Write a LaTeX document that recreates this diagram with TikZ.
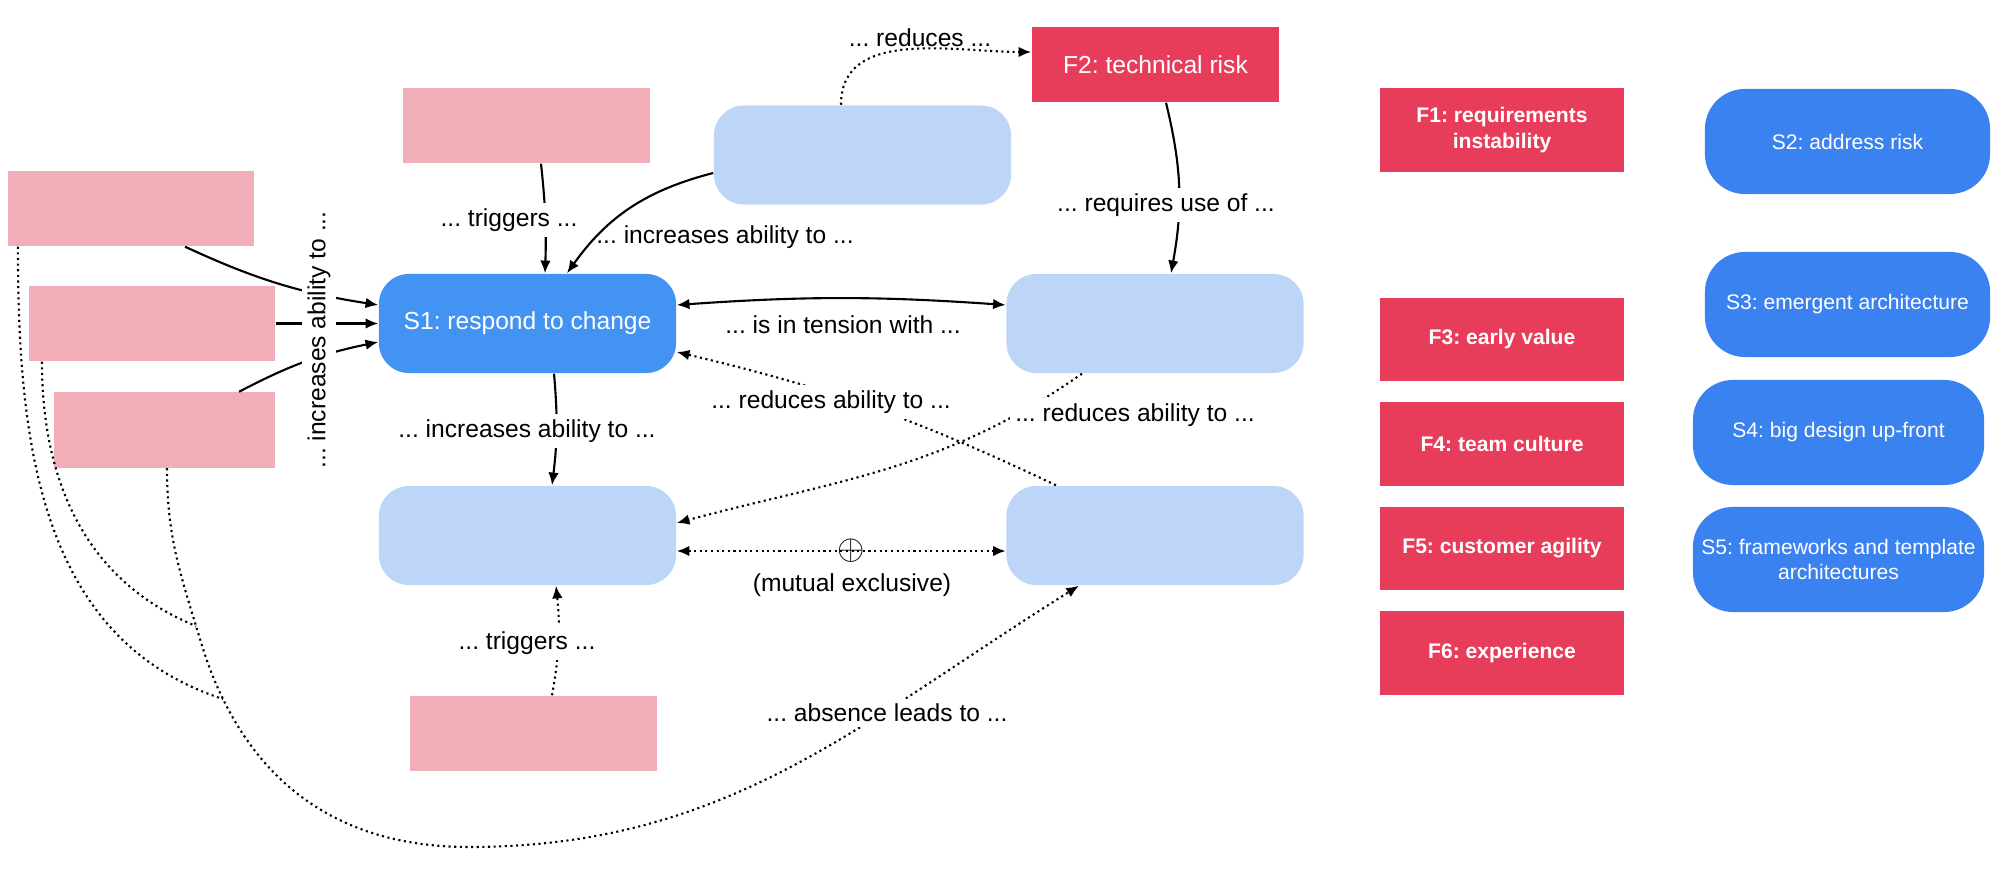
\documentclass[tikz,border=0pt]{standalone}
\usepackage{fontspec}
\setmainfont{Liberation Sans}
\frenchspacing
\usetikzlibrary{arrows.meta}

\begin{document}
\begin{tikzpicture}[
        x=0.01cm,
        y=-0.01cm,
        font=\fontsize{7}{8.4}\selectfont,
        >={Latex[length=3.6pt,width=3pt]},
        pinkbox/.style={
            rectangle,
            fill=pinkfill,
            minimum width=2.46cm,
            minimum height=0.75cm,
            inner sep=0pt
          },
        lightbox/.style={
            rectangle,
            rounded corners=0.3cm,
            fill=lightfill,
            minimum width=2.97cm,
            minimum height=0.99cm,
            inner sep=0pt
          },
        factorbox/.style={
            rectangle,
            fill=factorfill,
            text=white,
            font=\fontsize{6}{7.2}\selectfont\bfseries,
            align=center,
            minimum width=2.44cm,
            minimum height=0.83cm,
            inner sep=0pt
          },
        stratbox/.style={
            rectangle,
            rounded corners=0.4cm,
            fill=stratfill,
            text=white,
            font=\fontsize{6}{7.2}\selectfont,
            align=center,
            minimum width=2.91cm,
            minimum height=1.05cm,
            inner sep=0pt
          },
        mylabel/.style={
            fill=white,
            inner sep=1.5pt
          },
        dotline/.style={
            line width=0.6pt,
            densely dotted
          },
        solidarrow/.style={
            line width=0.6pt,
            ->
          },
        dotarrow/.style={
            dotline,
            ->
          }]
        % Define colors
        \definecolor{pinkfill}{HTML}{F2AEB8}   % light red
        \definecolor{factorfill}{HTML}{E83D5A} % red
        \definecolor{lightfill}{HTML}{BDD6F8}  % light blue
        \definecolor{s1fill}{HTML}{4393F3}     % blue
        \definecolor{stratfill}{HTML}{3B82F1}  % darker blue

        \useasboundingbox (0,0) rectangle (1994,886);

        % Draw empty factor boxes
        \draw (131,208.5) node[pinkbox] (pinka) {};
        \draw (152,323.5) node[pinkbox] (pinkb) {};
        \draw (164.5,430) node[pinkbox, minimum width=2.21cm] (pinkc) {};
        \draw (526.5,125.5) node[pinkbox] (pinktop) {};
        \draw (533.5,733.5) node[pinkbox] (pinkbot) {};
        \draw (1155.5,64.5) node[pinkbox, minimum width=2.47cm, fill=factorfill, text=white] (f2) {F2: technical risk};

        % Draw strategy boxes
        \draw (527.5,323.5) node[lightbox, fill=s1fill, text=white] (s1) {S1: respond to change};
        \draw (862.5,155) node[lightbox] (btop) {};
        \draw (1155,323.5) node[lightbox] (bright) {};
        \draw (527.5,535.5) node[lightbox] (blow) {};
        \draw (1155,535.5) node[lightbox] (blowright) {};

        % Draw legend
        \draw (1502,130) node[factorbox] (f1) {F1: requirements\\instability};
        \draw (1502,339.5) node[factorbox] (f3) {F3: early value};
        \draw (1502,444) node[factorbox] (f4) {F4: team culture};
        \draw (1502,548.5) node[factorbox] (f5) {F5: customer agility};
        \draw (1502,653) node[factorbox] (f6) {F6: experience};
        \draw (1847.5,141.5) node[stratbox, minimum width=2.85cm] (s2) {S2: address risk};
        \draw (1847.5,304.5) node[stratbox, minimum width=2.85cm] (s3) {S3: emergent architecture};
        \draw (1838.5,432.5) node[stratbox] (s4) {S4: big design up-front};
        \draw (1838.5,559.5) node[stratbox] (s5) {S5: frameworks and template\\architectures};

        % Draw arrows into S1
        \draw[solidarrow] ([xshift=0.54cm]pinka.south) to[bend right=8] ([yshift=0.185cm]s1.west);
        \draw[solidarrow] (pinkb) -- (s1);
        \draw[solidarrow] ([xshift=0.745cm]pinkc.north) to[bend left=8] ([yshift=-0.185cm]s1.west);
        \draw (319,340) node[mylabel, rotate=90] (lblleft) {... increases ability to ...};
        \draw[solidarrow] ([xshift=0.145cm]pinktop.south) to[bend left=4] ([xshift=0.175cm]s1.north);
        \draw (509,220) node[mylabel] (lbltrigtop) {... triggers ...};
        \draw[solidarrow] ([yshift=-0.18cm]btop.west) to[bend right=20] ([xshift=0.395cm]s1.north);
        \draw (725,237) node (lblinctop) {... increases ability to ...};

        % Draw arrows round F2
        \draw[dotarrow] ([xshift=-0.215cm]btop.north) to[out=90,in=180] ([yshift=0.125cm]f2.west);
        \draw (920,38) node (lblreduces) {... reduces ...};
        \draw[solidarrow] ([xshift=0.105cm]f2.south) to[bend left=12] ([xshift=0.16cm]bright.north);
        \draw (1166,205) node[mylabel] (lblrequires) {... requires use of ...};

        % Draw tension and reduce arrows
        \draw[solidarrow, <->] ([yshift=0.185cm]s1.east) to[bend left=4] ([yshift=0.185cm]bright.west);
        \draw (843,325) node (lbltension) {... is in tension with ...};
        \draw[dotarrow] ([xshift=-0.99cm]blowright.north) to[bend right=6] ([yshift=-0.285cm]s1.east);
        \draw (831,402) node[mylabel] (lblredleft) {... reduces ability to ...};
        \draw[dotarrow] ([xshift=-0.73cm]bright.south) to[out=215,in=15] ([yshift=0.125cm]blow.east);
        \draw (1135,415) node[mylabel] (lblredright) {... reduces ability to ...};

        % Draw arrows into the lower box
        \draw[solidarrow] ([xshift=0.265cm]s1.south) to[bend left=6] ([xshift=0.245cm]blow.north);
        \draw (527,431) node[mylabel] (lblincbelow) {... increases ability to ...};
        \draw[dotarrow] ([xshift=0.185cm]pinkbot.north) to[bend right=8] ([xshift=0.285cm]blow.south);
        \draw (527,643) node[mylabel] (lbltrigbot) {... triggers ...};
        \draw[dotarrow, <->] ([yshift=-0.155cm]blow.east) -- node[pos=0.53, inner sep=0pt, font=\fontsize{10}{12}\selectfont] (xor) {$\oplus$} ([yshift=-0.155cm]blowright.west);
        \draw (852,585) node (lblmutual) {(mutual exclusive)};

        % Draw absence curves
        \coordinate (mergeb) at (196,626);
        \coordinate (mergea) at (223,699);
        \coordinate (lowest) at (469,847);
        \draw[dotarrow] ([xshift=0.025cm]pinkc.south) to[out=-90,in=107] (mergeb)
          to[out=-73,in=116] (mergea)
          to[out=-64,in=180] (lowest)
          to[out=0,in=212] ([xshift=-0.76cm]blowright.south);
        \draw[dotline] ([xshift=-1.13cm]pinka.south) to[out=-90,in=162] (mergea);
        \draw[dotline] ([xshift=-1.10cm]pinkb.south) to[out=-90,in=158] (mergeb);
        \draw (887,713) node[mylabel] (lblabsence) {... absence leads to ...};
    \end{tikzpicture}
\end{document}
